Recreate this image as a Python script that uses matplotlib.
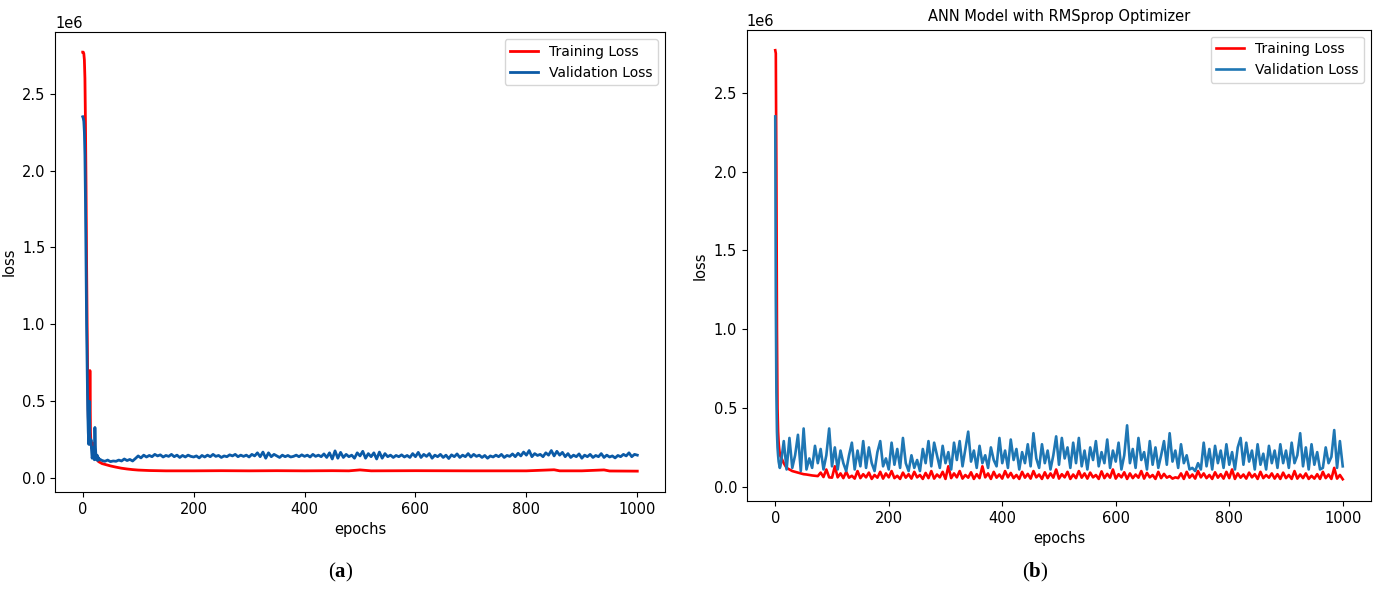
import numpy as np
import matplotlib
matplotlib.use('Agg')
import matplotlib.pyplot as plt

plt.rcParams['font.family'] = ['DejaVu Sans']
plt.rcParams['mathtext.fontset'] = 'custom'
plt.rcParams['mathtext.rm'] = 'Liberation Serif'
plt.rcParams['mathtext.bf'] = 'Liberation Serif:bold'

# all loss values in thousands (x1e3)
# ---------- panel (a) ----------
a_early_ep = list(range(0, 30))
a_train_early = [2770, 2770, 2760, 2720, 2600, 2300, 1900, 1400, 1000, 650,
                 400, 280, 230, 700, 300, 220, 200, 190, 230, 180,
                 160, 150, 140, 135, 130, 125, 120, 115, 110, 107]
a_val_early = [2350, 2340, 2320, 2250, 2100, 1800, 1400, 1000, 700, 450,
               300, 220, 500, 250, 220, 250, 180, 130, 150, 200,
               140, 120, 330, 200, 130, 120, 150, 115, 135, 120]

a_train_ep = [30, 35, 40, 45, 50, 60, 70, 80, 90, 100, 120, 150, 200, 250, 300,
              350, 400, 450, 480, 500, 520, 600, 700, 800, 850, 860, 900, 940, 950, 1000]
a_train_late = [105, 95, 90, 85, 80, 72, 65, 60, 56, 53, 50, 48, 48, 49, 48,
                49, 48, 49, 48, 54, 48, 49, 48, 48, 55, 48, 48, 54, 47, 46]

# validation, every 5 epochs from epoch 30
a_val_late = [125, 115, 110, 118, 108, 112, 110, 118, 112, 125, 115, 122, 112, 128,
              145, 132, 150, 138, 148, 140, 155, 145, 152, 138, 148, 142, 155, 140,
              150, 135, 148, 138, 150, 142, 138, 145, 132, 148, 138, 150, 140, 155,
              142, 148, 135, 145, 140, 152, 145, 155, 140, 150, 142, 150, 138, 155,
              145, 165, 140, 170, 130, 165, 140, 155, 145, 135, 150, 140, 148, 138,
              142, 150, 140, 152, 142, 150, 138, 155, 142, 150, 140, 158, 135, 165,
              125, 178, 130, 168, 135, 155, 140, 150, 130, 165, 145, 175, 130, 160,
              140, 165, 125, 170, 130, 160, 140, 150, 135, 148, 140, 152, 138, 148,
              135, 160, 140, 168, 135, 155, 142, 160, 130, 150, 140, 155, 135, 150,
              128, 152, 140, 158, 135, 150, 140, 160, 138, 155, 142, 150, 135, 148,
              130, 145, 138, 150, 140, 155, 135, 148, 142, 158, 140, 162, 145, 170,
              150, 180, 140, 160, 148, 155, 140, 165, 150, 180, 145, 175, 150, 168,
              140, 160, 135, 150, 140, 158, 130, 150, 140, 155, 135, 148, 140, 160,
              135, 150, 138, 145, 132, 148, 140, 155, 145, 165, 140, 155, 150]

# ---------- panel (b) ----------
b_early_ep = list(range(0, 10))
b_train_early = [2770, 2750, 2000, 1000, 500, 350, 280, 240, 210, 195]
b_val_early = [2350, 1200, 600, 350, 250, 200, 160, 140, 120, 130]

# every 5 epochs from epoch 10
b_train_late = [190, 150, 120, 110, 100, 95, 90, 85, 80, 78, 75, 72, 70, 68, 90, 62, 110, 60,
                58, 130, 60, 85, 55, 95, 58, 70, 52, 100, 55, 80, 60, 90, 50, 75, 58, 95,
                52, 85, 60, 100, 55, 70, 50, 90, 58, 80, 52, 95, 60, 75, 50, 88, 55, 100,
                52, 78, 60, 95, 50, 130, 55, 85, 60, 100, 52, 75, 58, 92, 50, 80, 55, 130,
                60, 85, 50, 95, 58, 78, 52, 100, 60, 88, 55, 75, 50, 95, 58, 82, 52, 100,
                60, 78, 50, 92, 55, 85, 58, 110, 52, 80, 60, 95, 50, 78, 55, 100, 58, 85,
                52, 90, 60, 75, 50, 98, 55, 82, 58, 110, 52, 80, 60, 92, 50, 85, 55, 78,
                58, 100, 52, 88, 60, 75, 50, 95, 55, 82, 58, 68, 52, 60, 55, 85, 50, 95,
                58, 78, 52, 100, 60, 85, 55, 75, 50, 92, 58, 80, 52, 95, 55, 110, 50, 85,
                58, 78, 52, 90, 60, 80, 50, 95, 55, 75, 58, 85, 52, 80, 50, 90, 55, 75,
                50, 100, 52, 78, 55, 85, 50, 70, 52, 80, 50, 95, 55, 78, 50, 120, 52, 75,
                48, 60, 50, 52, 48, 50]
b_val_late = [150, 290, 110, 310, 120, 200, 330, 100, 370, 110, 180, 120, 260, 150, 240,
              110, 200, 370, 130, 250, 110, 230, 150, 100, 200, 280, 110, 230, 130, 290,
              120, 250, 150, 100, 220, 290, 130, 180, 110, 280, 140, 240, 120, 310, 150,
              100, 200, 120, 170, 100, 240, 150, 290, 130, 280, 200, 120, 260, 150, 220,
              110, 280, 170, 290, 130, 240, 350, 160, 230, 120, 260, 150, 200, 120, 250,
              170, 130, 310, 150, 230, 120, 300, 170, 240, 110, 220, 150, 270, 130, 340,
              180, 120, 270, 150, 230, 110, 200, 320, 140, 310, 180, 250, 120, 280, 150,
              310, 130, 230, 110, 250, 170, 290, 130, 220, 150, 300, 120, 230, 160, 280,
              110, 200, 390, 150, 240, 120, 310, 170, 220, 110, 290, 140, 250, 120, 200,
              290, 140, 340, 160, 230, 120, 270, 150, 200, 110, 120, 100, 150, 110, 280,
              130, 240, 110, 260, 150, 230, 120, 270, 140, 220, 110, 250, 310, 140, 280,
              160, 230, 110, 270, 140, 210, 110, 260, 150, 230, 120, 270, 150, 230, 120,
              280, 150, 200, 340, 130, 250, 110, 270, 140, 220, 110, 120, 250, 150, 190,
              360, 120, 290, 130]
b_train_late = b_train_late[:len(b_val_late)]

a_ep = np.array(a_early_ep + list(30 + 5 * np.arange(len(a_val_late))))
a_val = np.array(a_val_early + a_val_late) * 1e3
a_tr_ep = np.array(a_early_ep + a_train_ep)
a_tr = np.array(a_train_early + a_train_late) * 1e3

b_tr_ep = np.array(b_early_ep + list(10 + 5 * np.arange(len(b_train_late))))
b_tr = np.array(b_train_early + b_train_late) * 1e3
b_val_ep = np.array(b_early_ep + list(10 + 5 * np.arange(len(b_val_late))))
b_val = np.array(b_val_early + b_val_late) * 1e3

fig = plt.figure(figsize=(13.78, 5.95), dpi=100)
ax1 = fig.add_axes([0.0399, 0.173, 0.4427, 0.773])
ax2 = fig.add_axes([0.542, 0.158, 0.453, 0.792])

ax1.plot(a_tr_ep, a_tr, color='red', lw=2.0, label='Training Loss')
ax1.plot(a_ep, a_val, color='#0b5aa6', lw=2.0, label='Validation Loss')

ax2.plot(b_tr_ep, b_tr, color='red', lw=1.9, label='Training Loss')
ax2.plot(b_val_ep, b_val, color='#1f77b4', lw=1.9, label='Validation Loss')
ax2.set_title('ANN Model with RMSprop Optimizer', fontsize=10.5)

for ax in (ax1, ax2):
    ax.set_xlim(-50, 1050)
    ax.set_ylim(-0.09e6, 2.9e6)
    ax.set_xticks([0, 200, 400, 600, 800, 1000])
    ax.set_yticks([0, 0.5e6, 1.0e6, 1.5e6, 2.0e6, 2.5e6])
    ax.tick_params(labelsize=10.5)
    ax.yaxis.get_offset_text().set_fontsize(10.5)
    ax.set_xlabel('epochs', fontsize=10.5)
    ax.set_ylabel('loss', fontsize=10.5)
    ax.legend(loc='upper right', fontsize=10)

fig.text(0.247, 0.03, r'($\mathbf{a}$)', ha='center', fontsize=15, family='Liberation Serif')
fig.text(0.751, 0.03, r'($\mathbf{b}$)', ha='center', fontsize=15, family='Liberation Serif')

fig.savefig('out.png', dpi=100)
